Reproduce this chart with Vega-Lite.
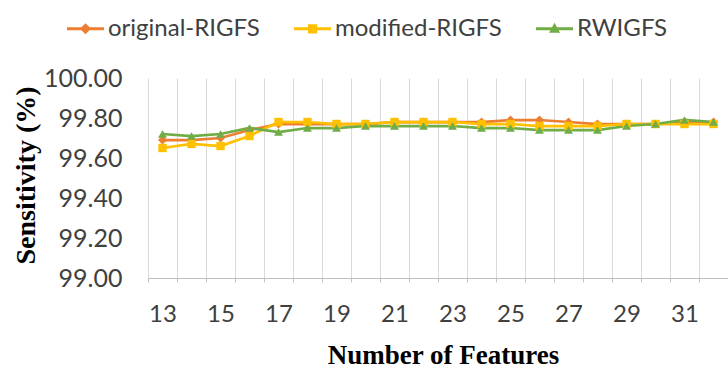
{
  "$schema": "https://vega.github.io/schema/vega-lite/v6.json",
  "width": 580,
  "height": 200,
  "autosize": {"type": "none"},
  "padding": {"left": 148, "top": 78, "right": 0, "bottom": 91},
  "background": "white",
  "config": {"view": {"stroke": null}},
  "data": {
    "values": [
      {"features": 13, "series": "original-RIGFS", "sensitivity": 99.69},
      {"features": 14, "series": "original-RIGFS", "sensitivity": 99.69},
      {"features": 15, "series": "original-RIGFS", "sensitivity": 99.70},
      {"features": 16, "series": "original-RIGFS", "sensitivity": 99.74},
      {"features": 17, "series": "original-RIGFS", "sensitivity": 99.77},
      {"features": 18, "series": "original-RIGFS", "sensitivity": 99.77},
      {"features": 19, "series": "original-RIGFS", "sensitivity": 99.77},
      {"features": 20, "series": "original-RIGFS", "sensitivity": 99.77},
      {"features": 21, "series": "original-RIGFS", "sensitivity": 99.78},
      {"features": 22, "series": "original-RIGFS", "sensitivity": 99.78},
      {"features": 23, "series": "original-RIGFS", "sensitivity": 99.78},
      {"features": 24, "series": "original-RIGFS", "sensitivity": 99.78},
      {"features": 25, "series": "original-RIGFS", "sensitivity": 99.79},
      {"features": 26, "series": "original-RIGFS", "sensitivity": 99.79},
      {"features": 27, "series": "original-RIGFS", "sensitivity": 99.78},
      {"features": 28, "series": "original-RIGFS", "sensitivity": 99.77},
      {"features": 29, "series": "original-RIGFS", "sensitivity": 99.77},
      {"features": 30, "series": "original-RIGFS", "sensitivity": 99.77},
      {"features": 31, "series": "original-RIGFS", "sensitivity": 99.78},
      {"features": 32, "series": "original-RIGFS", "sensitivity": 99.78},
      {"features": 13, "series": "modified-RIGFS", "sensitivity": 99.65},
      {"features": 14, "series": "modified-RIGFS", "sensitivity": 99.67},
      {"features": 15, "series": "modified-RIGFS", "sensitivity": 99.66},
      {"features": 16, "series": "modified-RIGFS", "sensitivity": 99.71},
      {"features": 17, "series": "modified-RIGFS", "sensitivity": 99.78},
      {"features": 18, "series": "modified-RIGFS", "sensitivity": 99.78},
      {"features": 19, "series": "modified-RIGFS", "sensitivity": 99.77},
      {"features": 20, "series": "modified-RIGFS", "sensitivity": 99.77},
      {"features": 21, "series": "modified-RIGFS", "sensitivity": 99.78},
      {"features": 22, "series": "modified-RIGFS", "sensitivity": 99.78},
      {"features": 23, "series": "modified-RIGFS", "sensitivity": 99.78},
      {"features": 24, "series": "modified-RIGFS", "sensitivity": 99.77},
      {"features": 25, "series": "modified-RIGFS", "sensitivity": 99.77},
      {"features": 26, "series": "modified-RIGFS", "sensitivity": 99.76},
      {"features": 27, "series": "modified-RIGFS", "sensitivity": 99.76},
      {"features": 28, "series": "modified-RIGFS", "sensitivity": 99.76},
      {"features": 29, "series": "modified-RIGFS", "sensitivity": 99.77},
      {"features": 30, "series": "modified-RIGFS", "sensitivity": 99.77},
      {"features": 31, "series": "modified-RIGFS", "sensitivity": 99.77},
      {"features": 32, "series": "modified-RIGFS", "sensitivity": 99.77},
      {"features": 13, "series": "RWIGFS", "sensitivity": 99.72},
      {"features": 14, "series": "RWIGFS", "sensitivity": 99.71},
      {"features": 15, "series": "RWIGFS", "sensitivity": 99.72},
      {"features": 16, "series": "RWIGFS", "sensitivity": 99.75},
      {"features": 17, "series": "RWIGFS", "sensitivity": 99.73},
      {"features": 18, "series": "RWIGFS", "sensitivity": 99.75},
      {"features": 19, "series": "RWIGFS", "sensitivity": 99.75},
      {"features": 20, "series": "RWIGFS", "sensitivity": 99.76},
      {"features": 21, "series": "RWIGFS", "sensitivity": 99.76},
      {"features": 22, "series": "RWIGFS", "sensitivity": 99.76},
      {"features": 23, "series": "RWIGFS", "sensitivity": 99.76},
      {"features": 24, "series": "RWIGFS", "sensitivity": 99.75},
      {"features": 25, "series": "RWIGFS", "sensitivity": 99.75},
      {"features": 26, "series": "RWIGFS", "sensitivity": 99.74},
      {"features": 27, "series": "RWIGFS", "sensitivity": 99.74},
      {"features": 28, "series": "RWIGFS", "sensitivity": 99.74},
      {"features": 29, "series": "RWIGFS", "sensitivity": 99.76},
      {"features": 30, "series": "RWIGFS", "sensitivity": 99.77},
      {"features": 31, "series": "RWIGFS", "sensitivity": 99.79},
      {"features": 32, "series": "RWIGFS", "sensitivity": 99.78}
    ]
  },
  "encoding": {
    "x": {
      "field": "features",
      "type": "ordinal",
      "title": "Number of Features",
      "scale": {"type": "band", "paddingInner": 0, "paddingOuter": 0},
      "axis": {
        "labelExpr": "datum.value % 2 == 1 ? datum.label : ''",
        "tickBand": "extent",
        "grid": true,
        "gridColor": "#d9d9d9",
        "domainColor": "#bfbfbf",
        "tickColor": "#bfbfbf",
        "tickSize": 4,
        "labelAngle": 0,
        "labelFont": "Lato",
        "labelFontSize": 24,
        "labelColor": "#404040",
        "labelPadding": 20,
        "titleFont": "Liberation Serif",
        "titleFontSize": 27,
        "titleFontWeight": "bold",
        "titleColor": "#000000",
        "titleX": 295,
        "titleY": 77,
        "titleAlign": "center",
        "titleBaseline": "middle"
      }
    },
    "y": {
      "field": "sensitivity",
      "type": "quantitative",
      "title": "Sensitivity (%)",
      "scale": {"domain": [99, 100], "zero": false},
      "axis": {
        "values": [99, 99.2, 99.4, 99.6, 99.8, 100],
        "format": ".2f",
        "grid": false,
        "domain": false,
        "ticks": false,
        "labelFont": "Lato",
        "labelFontSize": 25,
        "labelColor": "#404040",
        "labelPadding": 26,
        "titleFont": "Liberation Serif",
        "titleFontSize": 28,
        "titleFontWeight": "bold",
        "titleColor": "#000000",
        "titleX": -122,
        "titleY": 97,
        "titleAlign": "center",
        "titleBaseline": "middle"
      }
    },
    "color": {
      "field": "series",
      "type": "nominal",
      "scale": {
        "domain": ["original-RIGFS", "modified-RIGFS", "RWIGFS"],
        "range": ["#ED7D31", "#FFC000", "#70AD47"]
      },
      "legend": {
        "orient": "none",
        "legendX": -81,
        "legendY": -68,
        "direction": "horizontal",
        "title": null,
        "symbolSize": 1369,
        "symbolType": "M-1,-0.07H1V0.07H-1Z",
        "symbolStrokeWidth": 0,
        "labelFont": "Lato",
        "labelFontSize": 24,
        "labelColor": "#404040",
        "labelOffset": 4,
        "columnPadding": 34,
        "labelLimit": 300,
        "encode": {
          "symbols": {
            "update": {
              "shape": {"signal": "datum.value === 'original-RIGFS' ? 'M-1,-0.08H1V0.08H-1Z M0,-0.3L0.3,0L0,0.3L-0.3,0Z' : datum.value === 'modified-RIGFS' ? 'M-1,-0.08H1V0.08H-1Z M-0.25,-0.25H0.25V0.25H-0.25Z' : 'M-1,-0.08H1V0.08H-1Z M0,-0.32L0.3,0.22L-0.3,0.22Z'"},
              "fill": {"scale": "color", "field": "value"},
              "fillOpacity": {"value": 1},
              "strokeWidth": {"value": 0}
            }
          }
        }
      }
    }
  },
  "layer": [
    {"mark": {"type": "line", "strokeWidth": 2.75}},
    {
      "transform": [{"filter": "datum.series === 'original-RIGFS'"}],
      "mark": {"type": "point", "shape": "diamond", "filled": true, "size": 80, "opacity": 1}
    },
    {
      "transform": [{"filter": "datum.series === 'modified-RIGFS'"}],
      "mark": {"type": "point", "shape": "square", "filled": true, "size": 70, "opacity": 1}
    },
    {
      "transform": [{"filter": "datum.series === 'RWIGFS'"}],
      "mark": {"type": "point", "shape": "triangle-up", "filled": true, "size": 80, "opacity": 1}
    }
  ]
}
